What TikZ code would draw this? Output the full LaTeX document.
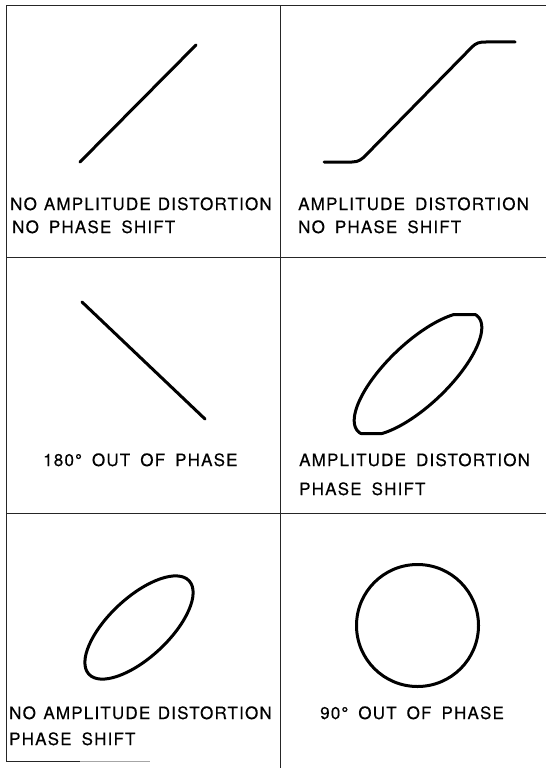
\documentclass[tikz,border=0pt]{standalone}
\usepackage{fontspec}
\setmainfont{TeX Gyre Heros}[LetterSpace=7, WordSpace=1.7, FakeBold=0.35]
\tikzset{
  gridline/.style={line width=1pt, black!85},
  trace/.style={line width=3pt, line cap=round, line join=round, black},
  lab/.style={anchor=base west, inner sep=0pt, font=\fontsize{17}{20}\selectfont},
}
\begin{document}
\begin{tikzpicture}[x=1pt,y=-1pt]
\useasboundingbox (0,0) rectangle (546,768);
\fill[white] (0,0) rectangle (546,768);
% frame
\draw[gridline] (6,6) -- (546,6);
\draw[gridline] (6,257) -- (546,257);
\draw[gridline] (6,513) -- (546,513);
\draw[gridline] (6,6) -- (6,761);
\draw[gridline] (280,6) -- (280,768);
\draw[gridline] (6,761) -- (80,761);
\draw[gridline, black!35] (80,761) -- (150,761);
% panel 1
\coordinate (p1a) at (80,162);
\coordinate (p1b) at (196,45);
\draw[trace] (p1a) -- (p1b);
% panel 2
\draw[trace] (324,162) -- (352,162) .. controls (359,162) and (362,159) .. (366,155)
  -- (472,47) .. controls (476,43) and (479,42) .. (486,42) -- (515,42);
% panel 3
\coordinate (p3a) at (82,302);
\coordinate (p3b) at (205,419);
\draw[trace] (p3a) -- (p3b);
% panel 4 (flattened ellipse)
\draw[trace] plot[domain=0:360, samples=241]
  ({418 + 83*cos(\x)*0.724 + 31*sin(\x)*0.690},
   {max(314.5, min(433.5, 374 - 83*cos(\x)*0.690 + 31*sin(\x)*0.724))}) -- cycle;
% panel 5
\draw[trace] (139,627.5) ellipse [x radius=68.5pt, y radius=30pt, rotate=43];
% panel 6
\draw[trace] (417.5,625.5) circle [radius=61pt];
% labels
\node[lab] (t1a) at (10,210) {NO\hspace{-3pt} AMPLITUDE\hspace{-3pt} DISTORTION};
\node[lab] (t1b) at (12,233) {NO PHASE SHIFT};
\node[lab] (t2a) at (298,210) {AMPLITUDE DISTORTION};
\node[lab] (t2b) at (298,233) {NO PHASE SHIFT};
\node[lab] (t3) at (43,466) {180° OUT OF PHASE};
\node[lab] (t4a) at (299,466) {AMPLITUDE DISTORTION};
\node[lab] (t4b) at (299,495) {PHASE SHIFT};
\node[lab] (t5a) at (9,719) {NO\hspace{-2.5pt} AMPLITUDE\hspace{-2.5pt} DISTORTION};
\node[lab] (t5b) at (9,745) {PHASE SHIFT};
\node[lab] (t6) at (320,719) {90° OUT OF PHASE};
\end{tikzpicture}
\end{document}
